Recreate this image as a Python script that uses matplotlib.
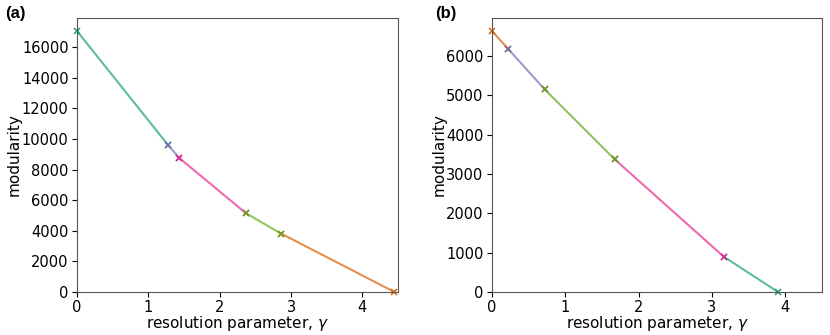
import numpy as np
import matplotlib.pyplot as plt

# Dark2 palette, in plotting order
colours = ["#1b9e77", "#d95f02", "#7570b3", "#e7298a", "#66a61e"]

# panel (a): segments by colour index -> (gamma, modularity) endpoints
gamma_a = [[0.0, 1.277], [2.86, 4.45], [1.277, 1.43], [1.43, 2.37], [2.37, 2.86]]
mod_a = [[17050, 9600], [3820, 0], [9600, 8770], [8770, 5140], [5140, 3820]]

# panel (b)
gamma_b = [[3.16, 3.90], [0.0, 0.218], [0.218, 0.719], [1.674, 3.16], [0.719, 1.674]]
mod_b = [[900, 0], [6640, 6190], [6190, 5154], [3374, 900], [5154, 3374]]

fig = plt.figure(figsize=(8.3, 3.35), dpi=100)
ax_a = fig.add_axes([77 / 830, 43 / 335, 321 / 830, 274 / 335])
ax_b = fig.add_axes([492 / 830, 43 / 335, 330 / 830, 274 / 335])

panels = [(ax_a, gamma_a, mod_a), (ax_b, gamma_b, mod_b)]
for ax, gs, ms in panels:
    for c, g, m in zip(colours, gs, ms):
        ax.plot(g, m, color=c, alpha=0.7, lw=1.5)
        ax.plot(g, m, "x", color=c, ms=5, mew=1.1, clip_on=False)
    top = max(max(m) for m in ms)
    ax.set_xlim(0, 4.5)
    ax.set_ylim(0, top * 1.05)
    ax.set_xlabel("resolution parameter, $\\gamma$", fontsize=11, labelpad=-1)
    ax.set_ylabel("modularity", fontsize=11, labelpad=0)
    ax.tick_params(labelsize=10.5, pad=2.5)
    for s in ax.spines.values():
        s.set_color("#555555")
    ax.set_xticks([0, 1, 2, 3, 4])

fig.text(5 / 830, 1 - 6 / 335, "(a)", fontsize=12, fontweight="bold",
         family="Liberation Sans", va="top")
fig.text(435 / 830, 1 - 6 / 335, "(b)", fontsize=12, fontweight="bold",
         family="Liberation Sans", va="top")

fig.savefig("out.png")
